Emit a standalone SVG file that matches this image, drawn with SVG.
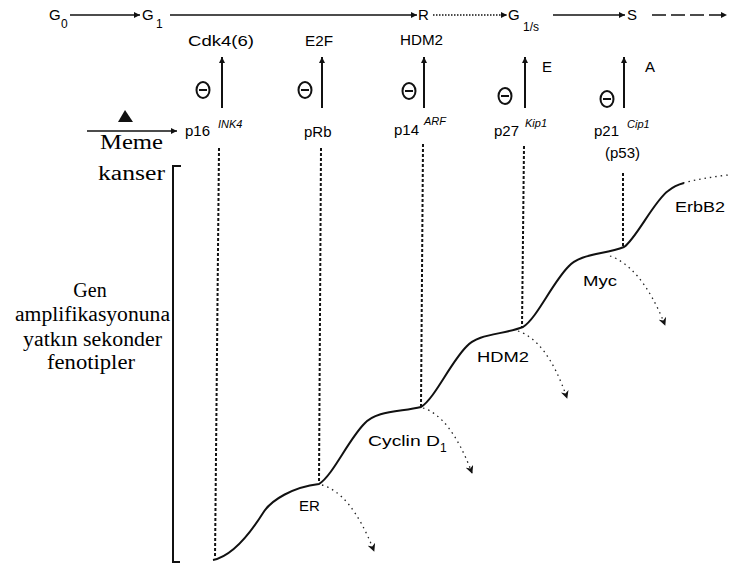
<svg xmlns="http://www.w3.org/2000/svg" width="730" height="570" viewBox="0 0 730 570">
  <defs>
    <style>
      .sans { font-family: "Liberation Sans", Arial, sans-serif; font-size: 15px; fill: #000; }
      .sub { font-family: "Liberation Sans", Arial, sans-serif; font-size: 12px; fill: #000; }
      .sup { font-family: "Liberation Sans", Arial, sans-serif; font-size: 11px; font-style: italic; fill: #000; }
      .serif { font-family: "Liberation Serif", "Times New Roman", serif; font-size: 20px; fill: #000; }
      .ln { stroke: #111; stroke-width: 1.5; fill: none; }
      .thick { stroke: #111; stroke-width: 2; fill: none; }
      .dash { stroke: #111; stroke-width: 2; stroke-dasharray: 3 2; fill: none; }
      .dot { stroke: #222; stroke-width: 1.3; stroke-dasharray: 1.5 4; fill: none; }
      .fine { stroke: #111; stroke-width: 1.3; stroke-dasharray: 1.5 1.5; fill: none; }
      .brk { stroke: #111; stroke-width: 1.3; stroke-dasharray: 14 5; fill: none; }
      .minus ellipse { fill: none; stroke: #111; stroke-width: 2; }
      .minus line { stroke: #111; stroke-width: 2; }
    </style>
    <marker id="tip" viewBox="0 0 10 10" refX="10" refY="5" markerUnits="userSpaceOnUse" markerWidth="9" markerHeight="6" orient="auto">
      <path d="M0,0 L10,5 L0,10 z" fill="#111"/>
    </marker>
    <marker id="tipDot" viewBox="0 0 10 10" refX="9" refY="5" markerUnits="userSpaceOnUse" markerWidth="10" markerHeight="8" orient="auto">
      <path d="M0,0 L10,5 L0,10 L3,5 z" fill="#111"/>
    </marker>
    <g id="minusSign" class="minus">
      <ellipse cx="0" cy="0" rx="6.5" ry="8"/>
      <line x1="-4" y1="0" x2="4" y2="0"/>
    </g>
  </defs>

  <rect width="730" height="570" fill="#fff"/>

  <!-- cell-cycle phases -->
  <g id="phase-g0">
    <text class="sans" x="49" y="20">G</text>
    <text class="sub" x="61" y="28">0</text>
  </g>
  <g id="phase-g1">
    <text class="sans" x="142" y="20">G</text>
    <text class="sub" x="156" y="28">1</text>
  </g>
  <g id="phase-r">
    <text class="sans" x="418" y="20">R</text>
  </g>
  <g id="phase-g1s">
    <text class="sans" x="508" y="20">G</text>
    <text class="sub" x="523" y="31">1/s</text>
  </g>
  <g id="phase-s">
    <text class="sans" x="627" y="20">S</text>
  </g>

  <!-- targets at the top of each inhibition arrow -->
  <g id="cdk4">
    <text class="sans" x="188" y="46" textLength="66" lengthAdjust="spacingAndGlyphs">Cdk4(6)</text>
  </g>
  <g id="e2f">
    <text class="sans" x="305" y="46" textLength="28" lengthAdjust="spacingAndGlyphs">E2F</text>
  </g>
  <g id="hdm2-top">
    <text class="sans" x="400" y="45" textLength="43" lengthAdjust="spacingAndGlyphs">HDM2</text>
  </g>
  <g id="cyclin-e">
    <text class="sans" x="542" y="72">E</text>
  </g>
  <g id="cyclin-a">
    <text class="sans" x="645" y="72">A</text>
  </g>

  <!-- inhibition signs -->
  <g id="minus-1"><use href="#minusSign" x="203" y="90"/></g>
  <g id="minus-2"><use href="#minusSign" x="305" y="90"/></g>
  <g id="minus-3"><use href="#minusSign" x="409" y="91"/></g>
  <g id="minus-4"><use href="#minusSign" x="505" y="96"/></g>
  <g id="minus-5"><use href="#minusSign" x="607" y="99"/></g>

  <!-- tumour suppressors -->
  <g id="p16">
    <text class="sans" x="185" y="136">p16</text>
    <text class="sup" x="218" y="128">INK4</text>
  </g>
  <g id="prb">
    <text class="sans" x="304" y="137">pRb</text>
  </g>
  <g id="p14">
    <text class="sans" x="394" y="135">p14</text>
    <text class="sup" x="424" y="125">ARF</text>
  </g>
  <g id="p27">
    <text class="sans" x="494" y="136">p27</text>
    <text class="sup" x="525" y="127">Kip1</text>
  </g>
  <g id="p21">
    <text class="sans" x="594" y="136">p21</text>
    <text class="sup" x="627" y="128">Cip1</text>
    <text class="sans" x="605" y="158">(p53)</text>
  </g>

  <!-- left-hand captions -->
  <g id="meme-kanseri">
    <path d="M118,122 L125,110 L133,122 z" fill="#111"/>
    <text class="serif" x="100" y="149" textLength="63" lengthAdjust="spacingAndGlyphs">Meme</text>
    <text class="serif" x="98" y="180" textLength="67" lengthAdjust="spacingAndGlyphs">kanser</text>
  </g>
  <g id="gen-amplifikasyon">
    <text class="serif" x="90" y="297" text-anchor="middle">Gen</text>
    <text class="serif" x="15" y="321" textLength="155" lengthAdjust="spacingAndGlyphs">amplifikasyonuna</text>
    <text class="serif" x="23" y="346" textLength="139" lengthAdjust="spacingAndGlyphs">yatkın sekonder</text>
    <text class="serif" x="47" y="369" textLength="88" lengthAdjust="spacingAndGlyphs">fenotipler</text>
  </g>

  <!-- amplified genes along the staircase -->
  <g id="er">
    <text class="sans" x="299" y="511">ER</text>
  </g>
  <g id="cyclin-d1">
    <text class="sans" x="368" y="446" textLength="72" lengthAdjust="spacingAndGlyphs">Cyclin D</text>
    <text class="sub" x="440" y="452">1</text>
  </g>
  <g id="hdm2">
    <text class="sans" x="477" y="362" textLength="52" lengthAdjust="spacingAndGlyphs">HDM2</text>
  </g>
  <g id="myc">
    <text class="sans" x="583" y="286" textLength="34" lengthAdjust="spacingAndGlyphs">Myc</text>
  </g>
  <g id="erbb2">
    <text class="sans" x="675" y="212" textLength="50" lengthAdjust="spacingAndGlyphs">ErbB2</text>
  </g>

  <g id="connectors">
    <!-- phase progression -->
    <line class="ln" x1="70" y1="15" x2="140" y2="15" marker-end="url(#tip)"/>
    <line class="ln" x1="170" y1="15" x2="417" y2="15" marker-end="url(#tip)"/>
    <line class="fine" x1="433" y1="15" x2="507" y2="15" marker-end="url(#tip)"/>
    <line class="ln" x1="553" y1="15" x2="625" y2="15" marker-end="url(#tip)"/>
    <line class="brk" x1="652" y1="15" x2="727" y2="15" marker-end="url(#tip)"/>

    <!-- inhibition arrows -->
    <line class="thick" x1="222" y1="108" x2="222" y2="57" marker-end="url(#tip)"/>
    <line class="thick" x1="322" y1="108" x2="322" y2="57" marker-end="url(#tip)"/>
    <line class="thick" x1="424" y1="108" x2="424" y2="57" marker-end="url(#tip)"/>
    <line class="thick" x1="525" y1="108" x2="525" y2="57" marker-end="url(#tip)"/>
    <line class="thick" x1="624" y1="108" x2="624" y2="57" marker-end="url(#tip)"/>

    <!-- Meme kanseri arrow -->
    <line class="ln" x1="87" y1="131" x2="177" y2="131" marker-end="url(#tip)"/>

    <!-- bracket -->
    <path class="thick" d="M181,166 L173,166 L173,562 L180,562"/>

    <!-- dashed drop lines -->
    <line class="dash" x1="219" y1="148" x2="215" y2="558"/>
    <line class="dash" x1="321" y1="148" x2="319" y2="483"/>
    <line class="dash" x1="423" y1="144" x2="421" y2="406"/>
    <line class="dash" x1="524" y1="146" x2="522" y2="327"/>
    <line class="dash" x1="623" y1="173" x2="623" y2="247"/>

    <!-- staircase of acquired amplifications -->
    <path class="thick" d="M213,560
      c20,-4 38,-28 50,-47 c8,-13 30,-26 56,-29
      c14,-9 28,-42 45,-60 c12,-14 37,-12 57,-17
      c14,-9 28,-42 45,-60 c12,-14 37,-12 57,-20
      c14,-9 28,-42 45,-60 c12,-14 36,-12 56,-20
      c12,-8 30,-46 44,-56 c6,-5 12,-7 16,-8"/>
    <path class="dot" d="M683,183 C698,179 712,177 728,175"/>

    <!-- escape branches -->
    <path class="dot" d="M322,485 C340,490 358,510 374,551" marker-end="url(#tipDot)"/>
    <path class="dot" d="M423,408 C440,413 457,433 472,473" marker-end="url(#tipDot)"/>
    <path class="dot" d="M518,331 C536,337 553,357 567,398" marker-end="url(#tipDot)"/>
    <path class="dot" d="M610,256 C628,262 648,282 665,325" marker-end="url(#tipDot)"/>
  </g>
</svg>
